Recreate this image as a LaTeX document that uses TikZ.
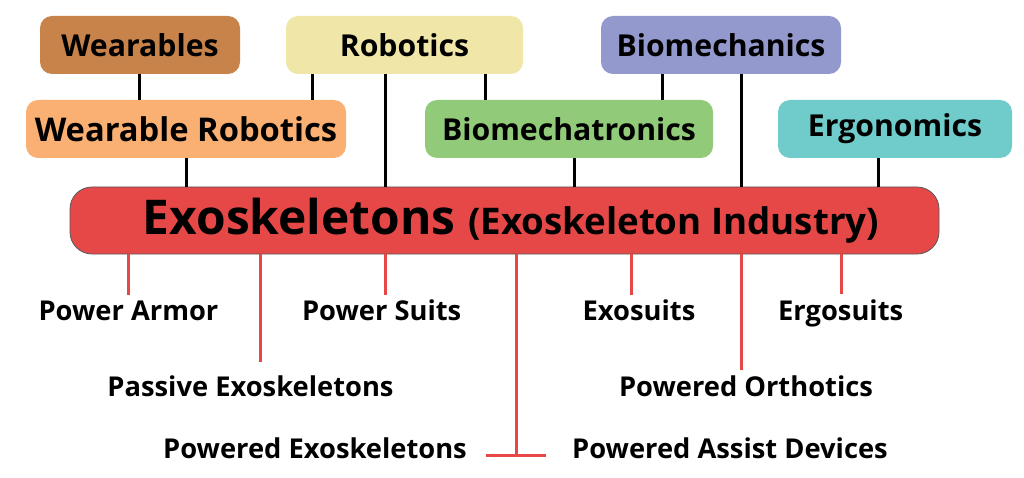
\documentclass[tikz,border=0pt]{standalone}
\usepackage{fontspec}
\setmainfont{Open Sans}
\definecolor{cwear}{HTML}{C8834A}
\definecolor{crob}{HTML}{F0E6A8}
\definecolor{cbiom}{HTML}{9399CD}
\definecolor{cwrob}{HTML}{F9B072}
\definecolor{cbiot}{HTML}{91CA79}
\definecolor{cergo}{HTML}{70CBCB}
\definecolor{cmain}{HTML}{E64848}
\begin{document}
\begin{tikzpicture}[x=1pt,y=-1pt,
  box/.style={rounded corners=12pt, minimum height=58pt, inner sep=0pt,
    font=\bfseries\fontsize{30.2}{36}\selectfont, text=black},
  bline/.style={line width=3pt, black},
  rline/.style={line width=3pt, cmain},
  lab/.style={anchor=base, inner sep=0pt, font=\bfseries\fontsize{27.3}{34}\selectfont}]
\useasboundingbox (0,0) rectangle (1024,478);
% top row
\node[box, fill=cwear, minimum width=200pt] (wear) at (140,45) {Wearables};
\node[box, fill=crob, minimum width=237pt] (rob) at (404.5,45) {Robotics};
\node[box, fill=cbiom, minimum width=240pt] (biom) at (721,45) {Biomechanics};
% second row
\node[box, fill=cwrob, minimum width=320pt, font=\bfseries\fontsize{32.7}{40}\selectfont] (wrob) at (186,129) {Wearable Robotics};
\node[box, fill=cbiot, minimum width=288pt] (biot) at (569,129) {Biomechatronics};
\node[box, fill=cergo, minimum width=234pt] (ergo) at (895,129) {Ergonomics};
% main
\node[rounded corners=22pt, fill=cmain, draw=black!65, line width=0.8pt,
  minimum width=869pt, minimum height=67pt, inner sep=0pt] (main) at (504.5,220.5)
  {\raisebox{-14pt}[0pt][0pt]{\hspace*{13pt}{\bfseries\fontsize{47.9}{52}\selectfont Exoskeletons }{\bfseries\fontsize{36.7}{40}\selectfont (Exoskeleton Industry)}}};
% black connectors
\draw[bline] (139,0 |- wear.south) -- (139,0 |- wrob.north);
\draw[bline] (312,0 |- rob.south) -- (312,0 |- wrob.north);
\draw[bline] (385,0 |- rob.south) -- (385,0 |- main.north);
\draw[bline] (485,0 |- rob.south) -- (485,0 |- biot.north);
\draw[bline] (662,0 |- biom.south) -- (662,0 |- biot.north);
\draw[bline] (741,0 |- biom.south) -- (741,0 |- main.north);
\draw[bline] (186,0 |- wrob.south) -- (186,0 |- main.north);
\draw[bline] (574,0 |- biot.south) -- (574,0 |- main.north);
\draw[bline] (878,0 |- ergo.south) -- (878,0 |- main.north);
% bottom labels
\node[lab] (parmor) at (128.5,320) {Power Armor};
\node[lab] (passive) at (250.5,396.5) {Passive Exoskeletons};
\node[lab] (psuits) at (381.7,320) {Power Suits};
\node[lab] (exos) at (639,320) {Exosuits};
\node[lab] (ergos) at (840.7,320) {Ergosuits};
\node[lab] (porth) at (746,396.5) {Powered Orthotics};
\node[lab, anchor=base east] (pexo) at (467,458) {Powered Exoskeletons};
\node[lab, anchor=base west] (passist) at (572,458) {Powered Assist Devices};
% red connectors
\draw[rline, shorten >=5pt] (128,0 |- main.south) -- (128,0 |- parmor.north);
\draw[rline, shorten >=14pt] (260,0 |- main.south) -- (260,0 |- passive.north);
\draw[rline, shorten >=4pt] (385,0 |- main.south) -- (385,0 |- psuits.north);
\draw[rline, shorten >=4pt] (631,0 |- main.south) -- (631,0 |- exos.north);
\draw[rline, shorten >=5pt] (841,0 |- main.south) -- (841,0 |- ergos.north);
\draw[rline, shorten >=6pt] (741,0 |- main.south) -- (741,0 |- porth.north);
\draw[rline] (516,0 |- main.south) -- (516,0 |- pexo.mid east);
\draw[rline, shorten <=19pt, shorten >=26pt] (pexo.mid east) -- (passist.mid west);
\end{tikzpicture}
\end{document}
